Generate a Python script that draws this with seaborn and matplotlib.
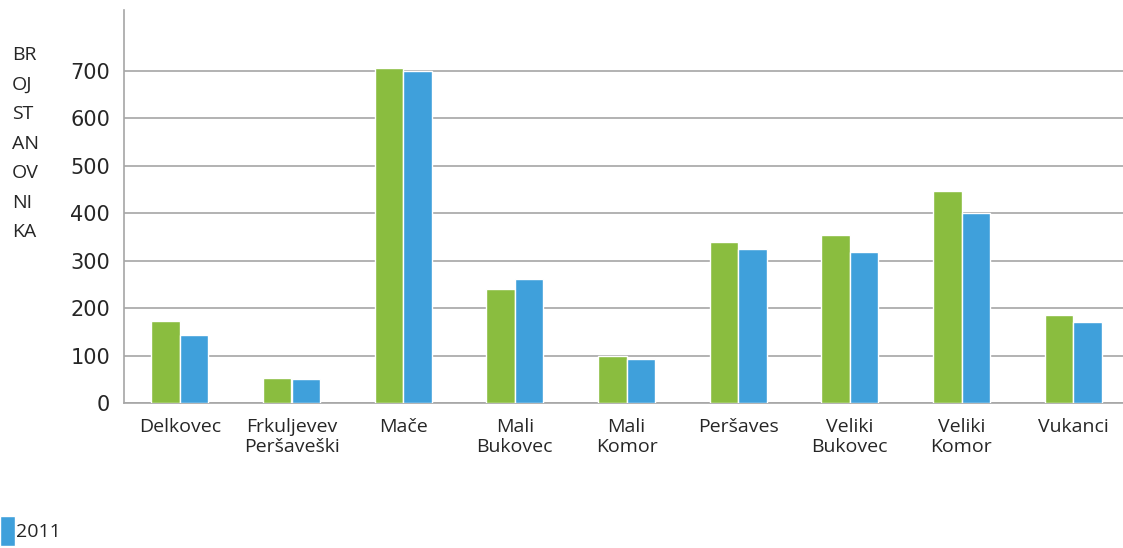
import matplotlib
matplotlib.use('Agg')
import matplotlib.pyplot as plt
import seaborn as sns
import pandas as pd

naselja = ['Delkovec', 'Frkuljevev\nPeršaveški', 'Mače', 'Mali\nBukovec', 'Mali\nKomor',
           'Peršaves', 'Veliki\nBukovec', 'Veliki\nKomor', 'Vukanci']
stanovnici_2001 = [173, 53, 706, 240, 100, 339, 354, 447, 185]
stanovnici_2011 = [143, 50, 700, 261, 93, 325, 318, 400, 171]
godine = ['2001', '2011']
boje = ['#8abd3f', '#3fa0db']
y_ticks = [0, 100, 200, 300, 400, 500, 600, 700]
ylabel_slogovi = ['BR', 'OJ', 'ST', 'AN', 'OV', 'NI', 'KA']

df = pd.DataFrame({'naselje': naselja * 2,
                   'godina': [godine[0]] * len(naselja) + [godine[1]] * len(naselja),
                   'broj': stanovnici_2001 + stanovnici_2011})

sns.set_style('white')
plt.rcParams['font.family'] = ['Open Sans', 'DejaVu Sans']

W, H = 1123, 548
fig = plt.figure(figsize=(W / 100, H / 100), dpi=100)
ax = fig.add_axes([124 / W, 145 / H, 1005 / W, 393 / H])

sns.barplot(data=df, x='naselje', y='broj', hue='godina', palette=boje, saturation=1,
            width=0.51, gap=0, edgecolor='white', linewidth=1, ax=ax, zorder=3)

grid_col = '#a6a6a6'
ax.set_ylim(0, 828)
ax.set_xlim(-0.5, len(naselja) - 0.5)
ax.set_yticks(y_ticks)
ax.set_yticklabels([str(t) for t in y_ticks], fontsize=15, family='DejaVu Sans')
ax.yaxis.grid(True, color=grid_col, linewidth=1.2, zorder=0)
ax.set_axisbelow(True)
ax.tick_params(axis='y', length=8, width=1, color=grid_col, direction='out', pad=2)

ax.set_xticks(range(len(naselja)))
ax.set_xticklabels(naselja, fontsize=14, linespacing=1.12)
ax.tick_params(axis='x', which='major', length=0, pad=11)
ax.set_xticks([i + 0.5 for i in range(len(naselja) - 1)], minor=True)
ax.tick_params(axis='x', which='minor', length=8, width=1, color=grid_col, direction='out')

for s in ['top', 'right']:
    ax.spines[s].set_visible(False)
for s in ['left', 'bottom']:
    ax.spines[s].set_color(grid_col)
    ax.spines[s].set_linewidth(1.2)

ax.set_xlabel('')
ax.set_ylabel('')
for i, slog in enumerate(ylabel_slogovi):
    fig.text(12 / W, 1 - (55 + 29.5 * i) / H, slog, fontsize=14, va='center', ha='left')

handles, labels = ax.get_legend_handles_labels()
ax.get_legend().remove()
fig.legend([handles[1]], [labels[1]], loc='lower left', bbox_to_anchor=(0, 0.003),
           frameon=False, fontsize=14, handlelength=0.77, handleheight=2.05,
           handletextpad=0.05, borderpad=0, borderaxespad=0)

fig.savefig('out.png', dpi=100)
